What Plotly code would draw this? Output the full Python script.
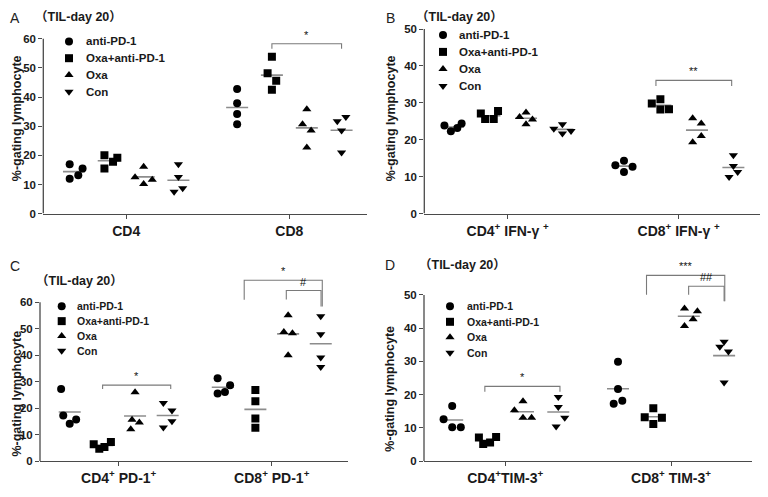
import plotly.graph_objects as go

FONT = "Liberation Sans, Arial, sans-serif"
W, H = 768, 497
PAGE_MARGIN = 8          # browser default body margin
FW, FH = W - PAGE_MARGIN, H - PAGE_MARGIN

groups = ["anti-PD-1", "Oxa+anti-PD-1", "Oxa", "Con"]

# ---------------- Panel A ----------------
a_categories = ["CD4", "CD8"]
a_anti_pd1 = [[16.9, 12.0, 13.2, 15.5], [42.8, 37.9, 34.2, 30.7]]
a_oxa_anti_pd1 = [[20.0, 15.5, 17.8, 19.2], [53.8, 48.2, 45.6, 42.5]]
a_oxa = [[16.1, 12.5, 10.2, 11.6], [35.8, 30.7, 28.5, 22.7]]
a_con = [[16.9, 12.6, 8.7, 7.5], [31.7, 33.2, 28.5, 21.0]]
a_anti_pd1_jitter = [[-1, -1, 1, 2], [0, 0, 0, 0]]
a_oxa_anti_pd1_jitter = [[-1, -1, 1, 2], [0, -1, 1, 0]]
a_oxa_jitter = [[0, -2, 0, 2], [0, -1, 1, 0]]
a_con_jitter = [[0, 0, 1, -1], [-1, 1, 0, 0]]

# ---------------- Panel B ----------------
b_categories = ["CD4<sup>+</sup> IFN-γ <sup>+</sup>", "CD8<sup>+</sup> IFN-γ <sup>+</sup>"]
b_anti_pd1 = [[23.9, 22.3, 23.2, 24.4], [13.1, 14.3, 11.3, 12.7]]
b_oxa_anti_pd1 = [[27.1, 25.6, 25.6, 27.8], [29.8, 31.0, 28.2, 28.3]]
b_oxa = [[26.2, 27.4, 24.2, 25.5], [25.8, 24.4, 21.0, 19.3]]
b_con = [[23.0, 24.2, 21.7, 22.4], [15.8, 12.9, 11.3, 9.9]]
b_anti_pd1_jitter = [[-2, -0.5, 1, 2], [-2, 0, 0, 2]]
b_oxa_anti_pd1_jitter = [[-2, -1, 1, 2], [-2, 0, 0, 2]]
b_oxa_jitter = [[-1.5, 0, 0, 1.5], [-1, 1, 1, -1]]
b_con_jitter = [[-2, 0, 0, 2], [0, 0, 1, -1]]

# ---------------- Panel C ----------------
c_categories = ["CD4<sup>+</sup> PD-1<sup>+</sup>", "CD8<sup>+</sup> PD-1<sup>+</sup>"]
c_anti_pd1 = [[27.2, 17.2, 14.1, 15.7], [31.3, 28.7, 26.1, 25.5]]
c_oxa_anti_pd1 = [[6.4, 4.7, 5.4, 7.2], [26.9, 22.6, 16.1, 12.6]]
c_oxa = [[26.0, 15.6, 14.6, 12.1], [55.1, 48.8, 48.3, 40.0]]
c_con = [[22.0, 19.1, 12.7, 15.1], [54.7, 47.9, 39.1, 35.5]]
c_anti_pd1_jitter = [[-2, -1.5, 0, 1.5], [-1.2, 1.7, 0.5, -1.2]]
c_oxa_anti_pd1_jitter = [[-2, -0.7, 0.5, 2], [0, 0, 0, 0]]
c_oxa_jitter = [[0, -0.7, 1, -1], [0, -1, 1, 0]]
c_con_jitter = [[-1, 1, -1, 1], [0, 0, 0, 0]]

# ---------------- Panel D ----------------
d_categories = ["CD4<sup>+</sup>TIM-3<sup>+</sup>", "CD8<sup>+</sup> TIM-3<sup>+</sup>"]
d_anti_pd1 = [[16.6, 12.6, 10.2, 10.2], [29.9, 21.7, 18.2, 17.3]]
d_oxa_anti_pd1 = [[7.1, 5.2, 5.6, 7.3], [15.9, 13.2, 13.1, 11.2]]
d_oxa = [[15.3, 18.0, 13.1, 13.1], [45.9, 45.1, 42.7, 40.7]]
d_con = [[19.3, 16.3, 13.1, 10.4], [35.9, 34.4, 33.0, 23.7]]
d_anti_pd1_jitter = [[0, -2, 0, 2], [0, 0, 1, -1]]
d_oxa_anti_pd1_jitter = [[-2, -1, 0.6, 2], [0, -2, 2, 0]]
d_oxa_jitter = [[-2, 0, 0, 2], [-1, 2, 1, -1]]
d_con_jitter = [[0, 0, 1.5, -0.5], [0, -1, 1, 0]]

# significance brackets: (x_left, x_right, y_top, y_left_leg, y_right_leg, label)
a_brackets = [(0.893, 1.32, 58.3, 56.6, 56.6, "*")]
b_brackets = [(0.867, 1.31, 36.1, 34.6, 34.6, "**")]
c_brackets = [(-0.105, 0.34, 28.7, 27.2, 27.2, "*"),
              (0.82, 1.33, 68.3, 60.9, 58.4, "*"),
              (1.095, 1.322, 64.4, 61.0, 58.4, "#")]
d_brackets = [(-0.123, 0.33, 22.5, 20.9, 20.9, "*"),
              (0.852, 1.324, 55.9, 50.1, 48.1, "***"),
              (1.106, 1.32, 52.6, 50.1, 48.1, "##")]

# ---------------- styling / layout ----------------
SYMBOLS = ["circle", "square", "triangle-up", "triangle-down"]
OFFSETS = [-0.32, -0.107, 0.107, 0.32]
JIT_PX = 4.3
HALF_MEAN_PX = 11
AXIS_COLOR = "#4a4a4a"
MEAN_COLOR = "#8c8c8c"


def px_x(px):
    return (px - PAGE_MARGIN) / FW


def px_y(py):
    return 1 - (py - PAGE_MARGIN) / FH


panels = [
    dict(letter="A", cats=a_categories,
         series=[a_anti_pd1, a_oxa_anti_pd1, a_oxa, a_con],
         jitters=[a_anti_pd1_jitter, a_oxa_anti_pd1_jitter, a_oxa_jitter, a_con_jitter],
         brackets=a_brackets,
         x_px=(43.3, 366.7), x_range=(-0.508, 1.474), y0_px=215, ppu=2.962,
         y_axis_top=60, y_max=65,
         letter_xy=(15, 16), title_xy=(78, 15), ytitle_xy=(17, 118),
         legend=dict(mx=69, tx=84, y0=40, dy=17, size=11.5)),
    dict(letter="B", cats=b_categories,
         series=[b_anti_pd1, b_oxa_anti_pd1, b_oxa, b_con],
         jitters=[b_anti_pd1_jitter, b_oxa_anti_pd1_jitter, b_oxa_jitter, b_con_jitter],
         brackets=b_brackets,
         x_px=(424.3, 763.3), x_range=(-0.488, 1.495), y0_px=215, ppu=3.753,
         y_axis_top=50, y_max=51,
         letter_xy=(390, 16), title_xy=(460, 15), ytitle_xy=(391, 118),
         legend=dict(mx=443, tx=457, y0=33.3, dy=17.3, size=11.5)),
    dict(letter="C", cats=c_categories,
         series=[c_anti_pd1, c_oxa_anti_pd1, c_oxa, c_con],
         jitters=[c_anti_pd1_jitter, c_oxa_anti_pd1_jitter, c_oxa_jitter, c_con_jitter],
         brackets=c_brackets,
         x_px=(40, 348.3), x_range=(-0.514, 1.50), y0_px=466.7, ppu=2.694,
         y_axis_top=60, y_max=74,
         letter_xy=(15, 268), title_xy=(79, 283), ytitle_xy=(17, 398),
         legend=dict(mx=61.7, tx=75, y0=309.3, dy=15, size=10.5)),
    dict(letter="D", cats=d_categories,
         series=[d_anti_pd1, d_oxa_anti_pd1, d_oxa, d_con],
         jitters=[d_anti_pd1_jitter, d_oxa_anti_pd1_jitter, d_oxa_jitter, d_con_jitter],
         brackets=d_brackets,
         x_px=(424, 752.3), x_range=(-0.49, 1.49), y0_px=466.7, ppu=3.38,
         y_axis_top=50, y_max=61,
         letter_xy=(390, 267), title_xy=(462, 267), ytitle_xy=(390, 393),
         legend=dict(mx=450, tx=465, y0=309.3, dy=15.7, size=10.5)),
]

fig = go.Figure()
shapes = []
annotations = []
layout_axes = {}

LEG_X, LEG_Y = "x5", "y5"

for i, p in enumerate(panels, start=1):
    xa = "x" if i == 1 else f"x{i}"
    ya = "y" if i == 1 else f"y{i}"
    xkey = "xaxis" if i == 1 else f"xaxis{i}"
    ykey = "yaxis" if i == 1 else f"yaxis{i}"
    x0p, x1p = p["x_px"]
    spacing = (x1p - x0p) / (p["x_range"][1] - p["x_range"][0])
    jstep = JIT_PX / spacing
    half = HALF_MEAN_PX / spacing

    # mean lines
    mx, my = [], []
    for g, vals in enumerate(p["series"]):
        for c, pts in enumerate(vals):
            m = sum(pts) / len(pts)
            cx = c + OFFSETS[g]
            mx += [cx - half, cx + half, None]
            my += [m, m, None]
    fig.add_trace(go.Scatter(x=mx, y=my, mode="lines", xaxis=xa, yaxis=ya,
                             line=dict(color=MEAN_COLOR, width=1.6),
                             showlegend=False, hoverinfo="skip"))
    # points
    for g, (vals, jits) in enumerate(zip(p["series"], p["jitters"])):
        xs, ys = [], []
        for c, (pts, jj) in enumerate(zip(vals, jits)):
            for v, j in zip(pts, jj):
                xs.append(c + OFFSETS[g] + j * jstep)
                ys.append(v)
        fig.add_trace(go.Scatter(x=xs, y=ys, mode="markers", xaxis=xa, yaxis=ya,
                                 name=groups[g], showlegend=False,
                                 marker=dict(symbol=SYMBOLS[g], size=8, color="black",
                                             line=dict(width=0))))

    y_bot = px_y(p["y0_px"])
    y_top = px_y(p["y0_px"] - p["y_max"] * p["ppu"])
    layout_axes[xkey] = dict(
        domain=[px_x(x0p), px_x(x1p)], range=list(p["x_range"]), anchor=ya,
        tickvals=[0, 1], ticktext=p["cats"], showline=True, linecolor=AXIS_COLOR,
        linewidth=1.3, ticks="outside", ticklen=4, tickcolor=AXIS_COLOR, tickwidth=1.2,
        showgrid=False, zeroline=False, fixedrange=True,
        tickfont=dict(family=FONT, size=14, color="#1a1a1a", weight="bold"))
    layout_axes[ykey] = dict(
        domain=[y_bot, y_top], range=[0, p["y_max"]], anchor=xa,
        tickvals=list(range(0, p["y_axis_top"] + 1, 10)), showline=False,
        ticks="outside", ticklen=4, tickcolor=AXIS_COLOR, tickwidth=1.2,
        showgrid=False, zeroline=False, fixedrange=True,
        tickfont=dict(family=FONT, size=11.5, color="#1a1a1a", weight="bold"))
    # y axis line (stops at top tick)
    shapes.append(dict(type="line", xref=f"{xa} domain", yref=ya, x0=0, x1=0,
                       y0=0, y1=p["y_axis_top"], line=dict(color=AXIS_COLOR, width=1.3)))
    # brackets
    for (bx0, bx1, btop, bl, br, lab) in p["brackets"]:
        shapes.append(dict(type="path", xref=xa, yref=ya,
                           path=f"M {bx0},{bl} L {bx0},{btop} L {bx1},{btop} L {bx1},{br}",
                           line=dict(color="#7a7a7a", width=1.1)))
        annotations.append(dict(x=(bx0 + bx1) / 2, y=btop, xref=xa, yref=ya,
                                text=lab, showarrow=False, yanchor="bottom", yshift=1,
                                font=dict(family=FONT, size=11, color="#111")))
    # panel letter, title, y title
    lx, ly = p["letter_xy"]
    annotations.append(dict(x=px_x(lx), y=px_y(ly), xref="paper", yref="paper",
                            text=p["letter"], showarrow=False, xanchor="center",
                            yanchor="middle",
                            font=dict(family=FONT, size=14, color="#222")))
    tx, ty = p["title_xy"]
    annotations.append(dict(x=px_x(tx), y=px_y(ty), xref="paper", yref="paper",
                            text="（TIL-day 20）", showarrow=False, xanchor="center",
                            yanchor="middle",
                            font=dict(family=FONT + ", Noto Sans CJK SC", size=12.5,
                                      color="#1a1a1a", weight="bold")))
    yx, yy = p["ytitle_xy"]
    annotations.append(dict(x=px_x(yx), y=px_y(yy), xref="paper", yref="paper",
                            text="%-gating lymphocyte", showarrow=False, textangle=-90,
                            xanchor="center", yanchor="middle",
                            font=dict(family=FONT, size=12.5, color="#1a1a1a", weight="bold")))
    # legend (markers on overlay pixel axis, labels as annotations)
    lg = p["legend"]
    for g in range(4):
        yrow = lg["y0"] + g * lg["dy"]
        fig.add_trace(go.Scatter(x=[lg["mx"]], y=[yrow], mode="markers",
                                 xaxis=LEG_X, yaxis=LEG_Y, showlegend=False,
                                 hoverinfo="skip",
                                 marker=dict(symbol=SYMBOLS[g], size=8, color="black")))
        annotations.append(dict(x=px_x(lg["tx"]), y=px_y(yrow), xref="paper", yref="paper",
                                text=groups[g], showarrow=False, xanchor="left",
                                yanchor="middle",
                                font=dict(family=FONT, size=lg["size"], color="#1a1a1a",
                                          weight="bold")))

layout_axes["xaxis5"] = dict(domain=[0, 1], range=[PAGE_MARGIN, W], visible=False,
                             anchor="y5", fixedrange=True)
layout_axes["yaxis5"] = dict(domain=[0, 1], range=[H, PAGE_MARGIN], visible=False,
                             anchor="x5", fixedrange=True)

fig.update_layout(
    width=FW, height=FH, margin=dict(l=0, r=0, t=0, b=0),
    paper_bgcolor="white", plot_bgcolor="rgba(0,0,0,0)",
    showlegend=False, shapes=shapes, annotations=annotations,
    font=dict(family=FONT, color="#1a1a1a"),
    **layout_axes)

fig.write_html("out.html")
